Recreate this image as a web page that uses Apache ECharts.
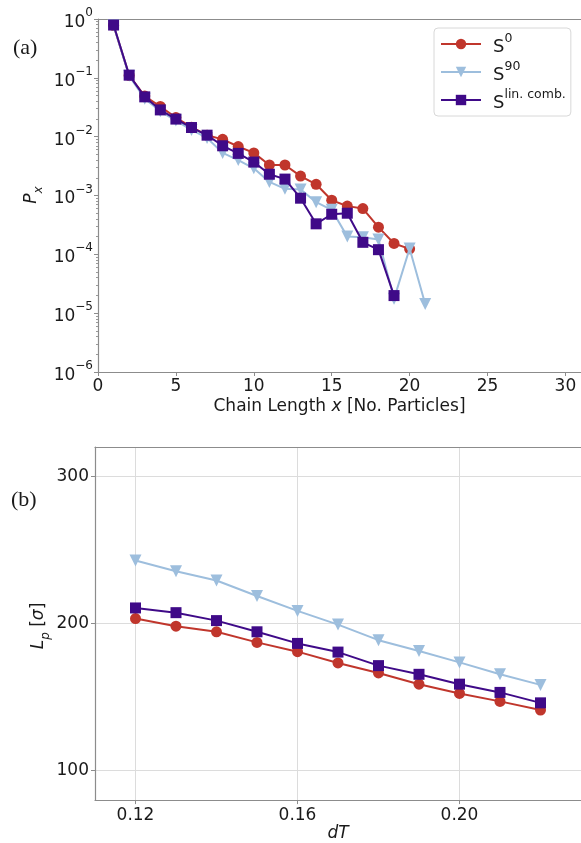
<!DOCTYPE html>
<html><head><meta charset="utf-8">
<script src="https://cdn.jsdelivr.net/npm/echarts@6/dist/echarts.min.js"></script>
<style>html,body{margin:0;padding:0;background:#fff}#c{width:581px;height:843px}</style>
</head><body><div id="c"></div>
<script>
// ---------- data: panel (a) ----------
const chainLengthS0  = [1,2,3,4,5,6,7,8,9,10,11,12,13,14,15,16,17,18,19,20];
const px_S0          = [0.78,0.11,0.049,0.0326,0.0211,0.0145,0.0106,0.0090,0.0068,0.0053,0.0033,0.0033,0.00214,0.00155,0.00083,0.00066,0.00060,0.00029,0.000153,0.000124];
const chainLengthS90 = [1,2,3,4,5,6,7,8,9,10,11,12,13,14,15,16,17,18,19,20,21];
const px_S90         = [0.78,0.108,0.044,0.027,0.0188,0.0130,0.0095,0.0053,0.0040,0.0029,0.0017,0.0013,0.00127,0.00077,0.00057,0.00020,0.000196,0.000179,0.0000175,0.000126,0.0000143];
const chainLengthLin = [1,2,3,4,5,6,7,8,9,10,11,12,13,14,15,16,17,18,19];
const px_Lin         = [0.79,0.111,0.0475,0.0285,0.0199,0.0143,0.0106,0.0070,0.0052,0.0037,0.0023,0.0019,0.0009,0.00033,0.00048,0.00050,0.00016,0.00012,0.0000199];
const xTicksA = [0,5,10,15,20,25,30];
const yTicksA = [1e-6,1e-5,1e-4,1e-3,1e-2,1e-1,1];

// ---------- data: panel (b) ----------
const dT     = [0.12,0.13,0.14,0.15,0.16,0.17,0.18,0.19,0.20,0.21,0.22];
const lp_S0  = [203.4,198.2,194.4,187.2,180.9,173.2,166.4,158.8,152.5,147.1,141.2];
const lp_S90 = [242.8,235.6,229.3,218.7,208.6,199.3,188.7,181.3,173.6,165.5,158.3];
const lp_Lin = [210.6,207.4,202.0,194.4,186.5,180.6,171.4,165.5,158.8,153.2,146.1];
const xTicksB = [0.12,0.16,0.20];
const yTicksB = [100,200,300];

const names = ['S0','S90','Slin'];
const colors = {S0:'#c0362c', S90:'#9dbedd', Slin:'#3f0a88'};
const FONT = 'DejaVu Sans';
const TXT = '#1a1a1a';
const SPINE = '#8c8c8c';

const zip = (xs, ys) => xs.map((x,i)=>[x, ys[i]]);

function mkSeries(name, data, xi, yi, z) {
  const sym = {S0:'circle', S90:'triangle', Slin:'rect'}[name];
  return {
    name, type:'line', xAxisIndex:xi, yAxisIndex:yi, data,
    symbol: sym, symbolSize: sym==='triangle'?12:11,
    symbolRotate: sym==='triangle'?180:0,
    showAllSymbol:true, animation:false, z,
    lineStyle:{color:colors[name], width:2},
    itemStyle:{color:colors[name], borderWidth:0}
  };
}

const supLabel = v => {
  const e = Math.round(Math.log10(v));
  return '{b|10}{s|' + (e===0 ? '0' : '\u2212' + (-e)) + '}';
};

const chart = echarts.init(document.getElementById('c'), null, {renderer:'canvas'});
chart.setOption({
  animation:false,
  backgroundColor:'#fff',
  grid:[
    {left:98, top:19, width:484, height:353},
    {left:95, top:447, width:488, height:355}
  ],
  legend:{
    left:434, top:28, orient:'vertical',
    data:names,
    padding:[4,5,4,6],
    itemGap:4, itemWidth:40, itemHeight:13,
    borderColor:'#d8d8d8', borderWidth:1, borderRadius:4,
    formatter: n => ({S0:'{s|S}{p|0}', S90:'{s|S}{p|90}', Slin:'{s|S}{p|lin. comb.}'})[n],
    textStyle:{
      rich:{
        s:{fontFamily:FONT, fontSize:18, color:TXT, lineHeight:24, verticalAlign:'bottom', padding:[0,0,0,7]},
        p:{fontFamily:FONT, fontSize:12.5, color:TXT, lineHeight:13, verticalAlign:'top'}
      }
    }
  },
  xAxis:[
    {gridIndex:0, type:'value', min:0, max:31, interval:5,
     axisLine:{show:true, lineStyle:{color:SPINE, width:1.2}},
     axisTick:{show:true, length:4, lineStyle:{color:SPINE}},
     axisLabel:{fontFamily:FONT, fontSize:17, color:TXT, margin:6, showMaxLabel:false},
     splitLine:{show:false},
     name:'{n|Chain Length }{i|x}{n| [No. Particles]}', nameLocation:'middle', nameGap:26,
     nameTextStyle:{rich:{n:{fontFamily:FONT,fontSize:17,color:TXT}, i:{fontFamily:FONT,fontSize:17,color:TXT,fontStyle:'italic'}}}
    },
    {gridIndex:0, type:'value', min:0, max:31, position:'top',
     axisLine:{show:true, onZero:false, lineStyle:{color:SPINE, width:1.2}},
     axisTick:{show:false}, axisLabel:{show:false}, splitLine:{show:false}},
    {gridIndex:1, type:'value', min:0.11, max:0.23,
     axisLine:{show:true, onZero:false, lineStyle:{color:SPINE, width:1.2}},
     axisTick:{show:true, length:4, customValues:xTicksB, lineStyle:{color:SPINE}},
     axisLabel:{fontFamily:FONT, fontSize:17, color:TXT, margin:7, customValues:xTicksB, formatter:v=>v.toFixed(2)},
     splitLine:{show:true, lineStyle:{color:'#dcdcdc', width:1}},
     name:'{i|dT}', nameLocation:'middle', nameGap:22,
     nameTextStyle:{rich:{i:{fontFamily:FONT,fontSize:17,color:TXT,fontStyle:'italic'}}}
    },
    {gridIndex:1, type:'value', min:0.11, max:0.23, position:'top',
     axisLine:{show:true, onZero:false, lineStyle:{color:SPINE, width:1.2}},
     axisTick:{show:false}, axisLabel:{show:false}, splitLine:{show:false}}
  ],
  yAxis:[
    {gridIndex:0, type:'log', logBase:10, min:1e-6, max:1,
     axisLine:{show:true, lineStyle:{color:SPINE, width:1.2}},
     axisTick:{show:true, length:4, lineStyle:{color:SPINE}},
     minorTick:{show:true, splitNumber:9, length:2, lineStyle:{color:'#999'}},
     axisLabel:{fontFamily:FONT, color:TXT, margin:5, formatter:supLabel,
       rich:{
         b:{fontFamily:FONT, fontSize:17, color:TXT, lineHeight:24, verticalAlign:'bottom'},
         s:{fontFamily:FONT, fontSize:12, color:TXT, lineHeight:12, verticalAlign:'top'}
       }},
     splitLine:{show:false}
    },
    {gridIndex:1, type:'value', min:80, max:320,
     axisLine:{show:true, lineStyle:{color:SPINE, width:1.2}},
     axisTick:{show:true, length:4, customValues:yTicksB, lineStyle:{color:SPINE}},
     axisLabel:{fontFamily:FONT, fontSize:17, color:TXT, margin:6, customValues:yTicksB},
     splitLine:{show:true, lineStyle:{color:'#dcdcdc', width:1}}
    }
  ],
  graphic:[
    {type:'text', left:13, top:37, style:{text:'(a)', font:'22px "Liberation Serif"', fill:TXT}},
    {type:'text', left:11, top:489, style:{text:'(b)', font:'22px "Liberation Serif"', fill:TXT}},
    {type:'text', x:34, y:195, rotation:Math.PI/2,
     style:{text:'{i|P}{sub|x}', align:'center', verticalAlign:'middle',
       rich:{i:{fontFamily:FONT,fontSize:17,fontStyle:'italic',fill:TXT,lineHeight:22,verticalAlign:'top'},
             sub:{fontFamily:FONT,fontSize:12,fontStyle:'italic',fill:TXT,lineHeight:12,verticalAlign:'bottom'}}}},
    {type:'text', x:41, y:626, rotation:Math.PI/2,
     style:{text:'{i|L}{sub|p}{n| [}{i|σ}{n|]}', align:'center', verticalAlign:'middle',
       rich:{i:{fontFamily:FONT,fontSize:17,fontStyle:'italic',fill:TXT,lineHeight:22,verticalAlign:'top'},
             n:{fontFamily:FONT,fontSize:17,fill:TXT,lineHeight:22,verticalAlign:'top'},
             sub:{fontFamily:FONT,fontSize:12,fontStyle:'italic',fill:TXT,lineHeight:12,verticalAlign:'bottom'}}}}
  ],
  series:[
    mkSeries('S0',   zip(chainLengthS0, px_S0),   0, 0, 2),
    mkSeries('S90',  zip(chainLengthS90, px_S90), 0, 0, 3),
    mkSeries('Slin', zip(chainLengthLin, px_Lin), 0, 0, 4),
    mkSeries('S0',   zip(dT, lp_S0),  2, 1, 2),
    mkSeries('S90',  zip(dT, lp_S90), 2, 1, 3),
    mkSeries('Slin', zip(dT, lp_Lin), 2, 1, 4)
  ]
});
</script></body></html>
